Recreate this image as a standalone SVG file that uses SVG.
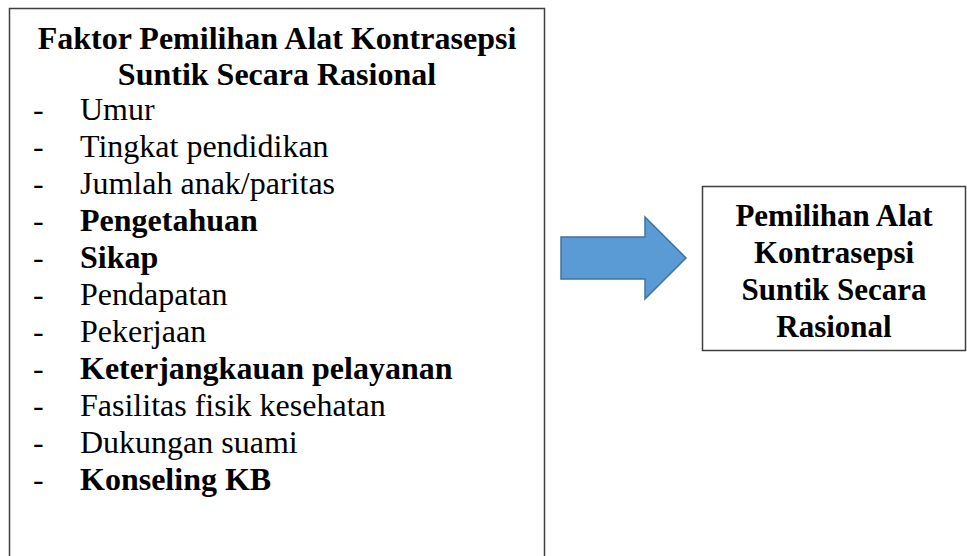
<svg xmlns="http://www.w3.org/2000/svg" width="967" height="556" viewBox="0 0 967 556">
<style>
.box{fill:#fff;stroke:#3f3f3f;stroke-width:1.5}
.t{font-family:"Liberation Serif","Times New Roman",serif;font-size:31px;fill:#000}
.l{font-size:32px}
.b{font-weight:bold}
.c{text-anchor:middle}
</style>
<rect width="967" height="556" fill="#fff"/>
<g id="factors">
<rect class="box" x="9.5" y="8.5" width="535" height="570"/>
<text class="t l b c" x="277" y="49">Faktor Pemilihan Alat Kontrasepsi</text>
<text class="t l b c" x="277" y="85">Suntik Secara Rasional</text>
<g class="t l">
<text x="33" y="120">-</text><text x="80" y="120">Umur</text>
<text x="33" y="157">-</text><text x="80" y="157">Tingkat pendidikan</text>
<text x="33" y="194">-</text><text x="80" y="194">Jumlah anak/paritas</text>
<text x="33" y="231">-</text><text class="b" x="80" y="231">Pengetahuan</text>
<text x="33" y="268">-</text><text class="b" x="80" y="268">Sikap</text>
<text x="33" y="305">-</text><text x="80" y="305">Pendapatan</text>
<text x="33" y="342">-</text><text x="80" y="342">Pekerjaan</text>
<text x="33" y="379">-</text><text class="b" x="80" y="379">Keterjangkauan pelayanan</text>
<text x="33" y="416">-</text><text x="80" y="416">Fasilitas fisik kesehatan</text>
<text x="33" y="453">-</text><text x="80" y="453">Dukungan suami</text>
<text x="33" y="490">-</text><text class="b" x="80" y="490">Konseling KB</text>
</g>
</g>
<g id="connectors">
<polygon points="561,237 645,237 645,217 686,258 645,299 645,279 561,279" fill="#5B9BD5" stroke="#41719C" stroke-width="1.5"/>
</g>
<g id="outcome">
<rect class="box" x="702.5" y="186.5" width="263" height="164"/>
<text class="t b c" x="834" y="226">Pemilihan Alat</text>
<text class="t b c" x="834" y="263">Kontrasepsi</text>
<text class="t b c" x="834" y="300">Suntik Secara</text>
<text class="t b c" x="834" y="337">Rasional</text>
</g>
</svg>
